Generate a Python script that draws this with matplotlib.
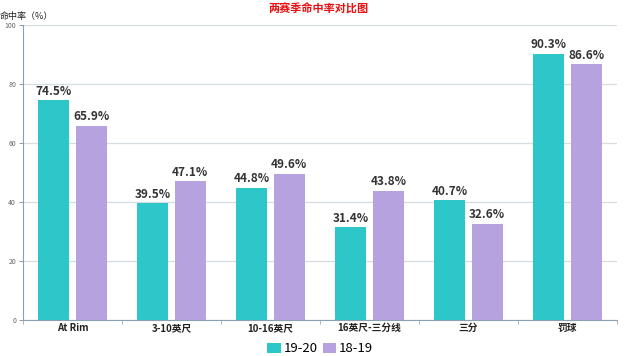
import matplotlib
matplotlib.use("Agg")
import matplotlib.pyplot as plt
import numpy as np
from matplotlib.patches import Patch

plt.rcParams['font.family'] = ['Noto Sans CJK SC', 'DejaVu Sans']

categories = ['At Rim', '3-10英尺', '10-16英尺', '16英尺-三分线', '三分', '罚球']
s1920 = [74.5, 39.5, 44.8, 31.4, 40.7, 90.3]
s1819 = [65.9, 47.1, 49.6, 43.8, 32.6, 86.6]
series_names = ['19-20', '18-19']
colors = ['#2ec7c9', '#b6a2de']

fig = plt.figure(figsize=(6.4, 3.56), dpi=100)
ax = fig.add_axes([0.036, 0.101, 0.928, 0.829])

x = np.arange(len(categories))
w = 0.31
off = 0.19
b1 = ax.bar(x - off, s1920, w, color=colors[0], zorder=3)
b2 = ax.bar(x + off, s1819, w, color=colors[1], zorder=3)
for bars, vals in ((b1, s1920), (b2, s1819)):
    for r, v in zip(bars, vals):
        ax.text(r.get_x() + r.get_width() / 2, v + 0.8, f'{v}%', ha='center', va='bottom',
                fontsize=8.5, color='#333333', fontweight='semibold', zorder=4)

ax.set_xlim(-0.5, len(categories) - 0.5)
ax.set_ylim(0, 100)
ax.set_yticks([0, 20, 40, 60, 80, 100])
ax.tick_params(axis='y', labelsize=5, colors='#888888', length=3, width=0.6, pad=2)
for t in ax.get_yticklabels():
    t.set_color('#666666')
ax.yaxis.grid(True, color='#d6dde0', linewidth=0.9, zorder=0)
ax.set_xticks(x)
ax.set_xticklabels(categories, fontsize=7, color='#222222', fontweight='semibold')
ax.set_xticks(np.arange(len(categories) + 1) - 0.5, minor=True)
ax.tick_params(axis='x', which='major', length=0, pad=2)
ax.tick_params(axis='x', which='minor', length=3, color='#a0a8b0', width=0.6)
for s in ['top', 'right']:
    ax.spines[s].set_visible(False)
ax.spines['left'].set_color('#8a9fb0')
ax.spines['bottom'].set_color('#8a9fb0')
ax.spines['left'].set_linewidth(0.8)
ax.spines['bottom'].set_linewidth(0.8)
ax.axhline(100, color='#c8d2d6', linewidth=1.3, zorder=1)

fig.text(0.498, 0.975, '两赛季命中率对比图', ha='center', va='center', fontsize=8,
         color='#e81010', fontweight='bold')
fig.text(0.0, 0.955, '命中率（%）', ha='left', va='center', fontsize=6.5, color='#222222')

handles = [Patch(facecolor=c, edgecolor='none') for c in colors]
fig.legend(handles, series_names, loc='center', bbox_to_anchor=(0.5, 0.02), ncol=2,
           frameon=False, fontsize=9.5, handlelength=1.0, handleheight=0.8,
           columnspacing=0.4, handletextpad=0.2, borderaxespad=0)

fig.savefig('out.png', dpi=100)
